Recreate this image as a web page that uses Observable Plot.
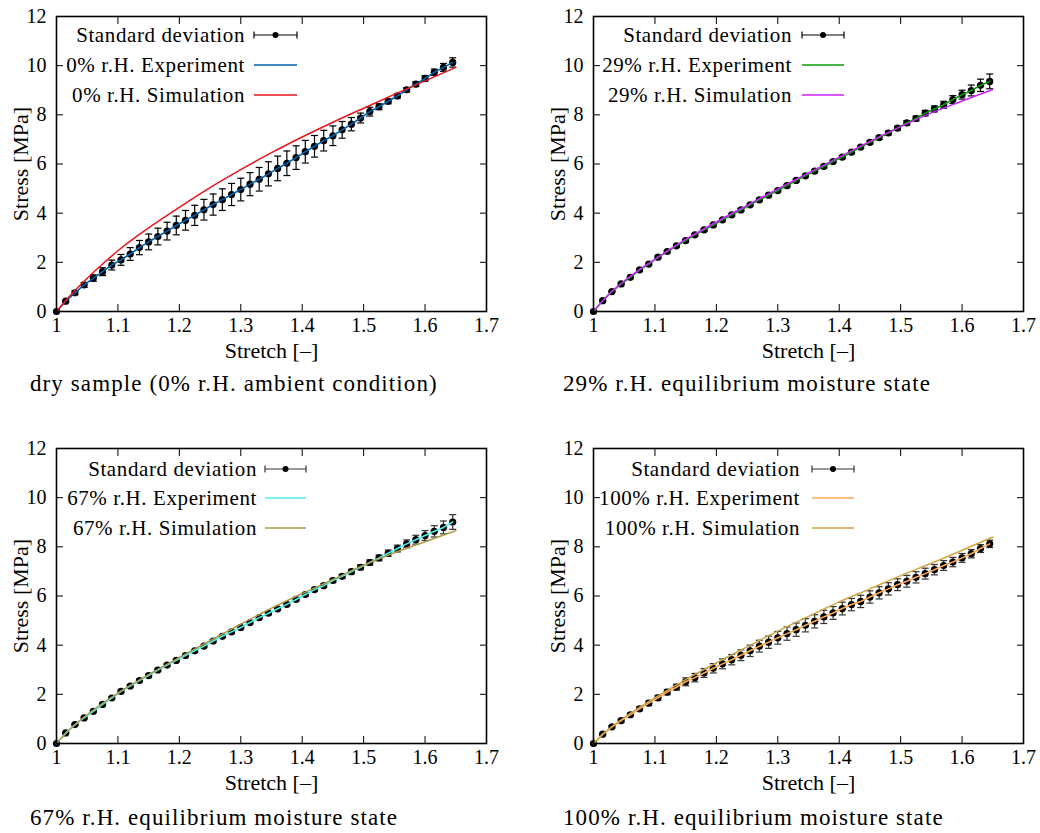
<!DOCTYPE html>
<html><head><meta charset="utf-8">
<script src="https://cdn.jsdelivr.net/npm/d3@7"></script>
<script src="https://cdn.jsdelivr.net/npm/@observablehq/plot@0.6"></script>
<style>
body{margin:0;background:#fff;}
#root{position:relative;width:1040px;height:833px;background:#fff;font-family:"Liberation Serif","DejaVu Serif","Times New Roman",serif;color:#000;overflow:hidden;}
.panel{position:absolute;width:520px;height:365px;}
.panel svg{max-width:none !important;}
.panel svg g[aria-label="x-axis label"] text, .panel svg g[aria-label="y-axis label"] text{font-size:22px;}
.cap{position:absolute;font-size:23px;letter-spacing:1.1px;white-space:nowrap;line-height:1;}
</style></head><body><div id="root"></div>
<script>
// ---------- data ----------
const expStretch = [1.000,1.015,1.030,1.045,1.060,1.075,1.090,1.105,1.120,1.135,1.150,1.165,1.180,1.195,1.210,1.225,1.240,1.255,1.270,1.285,1.300,1.315,1.330,1.345,1.360,1.375,1.390,1.405,1.420,1.435,1.450,1.465,1.480,1.495,1.510,1.525,1.540,1.555,1.570,1.585,1.600,1.615,1.630,1.645];
const simStretch = [1.000,1.025,1.050,1.075,1.100,1.150,1.200,1.250,1.300,1.350,1.400,1.450,1.500,1.550,1.600,1.650];
const xTicks = [1,1.1,1.2,1.3,1.4,1.5,1.6,1.7];
const yTicks = [0,2,4,6,8,10,12];

// 0% r.H.
const exp0 = [0,0.42,0.76,1.08,1.36,1.62,1.89,2.10,2.34,2.60,2.83,3.05,3.27,3.50,3.71,3.91,4.14,4.35,4.55,4.76,4.96,5.18,5.38,5.60,5.82,6.03,6.26,6.50,6.72,6.95,7.15,7.39,7.62,7.87,8.13,8.33,8.55,8.77,9.02,9.25,9.48,9.73,9.93,10.13];
const sd0 = [0,0.05,0.08,0.10,0.13,0.16,0.20,0.22,0.26,0.29,0.32,0.34,0.36,0.38,0.40,0.41,0.42,0.43,0.44,0.45,0.46,0.47,0.48,0.49,0.50,0.50,0.48,0.46,0.44,0.42,0.40,0.34,0.27,0.20,0.18,0.12,0.10,0.09,0.09,0.10,0.11,0.13,0.16,0.19];
const sim0 = [0,0.72,1.35,1.93,2.47,3.40,4.24,5.04,5.77,6.46,7.10,7.70,8.27,8.83,9.38,9.93];

// 29% r.H.
const exp29 = [0,0.44,0.81,1.12,1.39,1.69,1.93,2.21,2.44,2.67,2.88,3.12,3.32,3.52,3.73,3.93,4.13,4.34,4.54,4.73,4.92,5.12,5.33,5.52,5.71,5.90,6.10,6.28,6.48,6.69,6.88,7.07,7.26,7.46,7.67,7.85,8.07,8.24,8.41,8.62,8.82,8.99,9.20,9.36];
const sd29 = [0,0.03,0.03,0.04,0.04,0.05,0.05,0.05,0.05,0.05,0.05,0.05,0.05,0.05,0.05,0.05,0.05,0.05,0.05,0.05,0.05,0.05,0.05,0.05,0.05,0.05,0.05,0.06,0.06,0.06,0.07,0.07,0.08,0.08,0.09,0.10,0.11,0.12,0.14,0.16,0.18,0.22,0.25,0.30];
const sim29 = [0,0.70,1.24,1.70,2.12,2.93,3.64,4.32,4.99,5.64,6.28,6.92,7.52,8.08,8.56,9.03];

// 67% r.H.
const exp67 = [0,0.43,0.77,1.04,1.31,1.59,1.85,2.12,2.34,2.56,2.76,2.99,3.19,3.38,3.58,3.77,3.96,4.17,4.36,4.54,4.72,4.92,5.12,5.30,5.48,5.66,5.86,6.06,6.26,6.42,6.63,6.80,6.99,7.17,7.36,7.55,7.74,7.93,8.12,8.29,8.46,8.63,8.79,9.01];
const sd67 = [0,0.03,0.03,0.04,0.04,0.05,0.05,0.05,0.05,0.05,0.05,0.05,0.05,0.05,0.05,0.05,0.05,0.05,0.05,0.05,0.05,0.05,0.05,0.06,0.06,0.06,0.06,0.07,0.07,0.07,0.08,0.08,0.09,0.10,0.11,0.12,0.13,0.14,0.16,0.18,0.20,0.23,0.26,0.30];
const sim67 = [0,0.65,1.17,1.63,2.05,2.80,3.50,4.18,4.85,5.50,6.10,6.67,7.25,7.76,8.21,8.66];

// 100% r.H.
const exp100 = [0,0.38,0.68,0.93,1.17,1.41,1.64,1.86,2.09,2.29,2.51,2.68,2.87,3.06,3.24,3.41,3.59,3.77,3.96,4.12,4.30,4.47,4.63,4.81,4.97,5.15,5.31,5.49,5.65,5.78,5.96,6.13,6.29,6.46,6.60,6.76,6.91,7.07,7.24,7.38,7.55,7.72,7.93,8.12];
const sd100 = [0,0.04,0.05,0.06,0.07,0.08,0.09,0.10,0.11,0.12,0.16,0.17,0.18,0.19,0.20,0.21,0.22,0.23,0.24,0.25,0.26,0.27,0.27,0.27,0.27,0.27,0.26,0.26,0.25,0.25,0.25,0.25,0.25,0.24,0.24,0.23,0.22,0.21,0.20,0.19,0.18,0.17,0.16,0.15];
const sim100 = [0,0.58,1.05,1.47,1.86,2.60,3.28,3.93,4.57,5.17,5.76,6.29,6.83,7.33,7.86,8.40];

const stdLabel = "Standard deviation";
const expLabels = ["0% r.H. Experiment","29% r.H. Experiment","67% r.H. Experiment","100% r.H. Experiment"];
const simLabels = ["0% r.H. Simulation","29% r.H. Simulation","67% r.H. Simulation","100% r.H. Simulation"];
const captions = ["dry sample (0% r.H. ambient condition)","29% r.H. equilibrium moisture state","67% r.H. equilibrium moisture state","100% r.H. equilibrium moisture state"];
const xLabel = "Stretch [–]";
const yLabel = "Stress [MPa]";

// ---------- styling / layout ----------
const FONT = "'Liberation Serif', 'DejaVu Serif', 'Times New Roman', serif";
const series = [
  {exp: exp0, sd: sd0, sim: sim0, expColor: "#0060ad", simColor: "#e8151b", sdColor: "#000"},
  {exp: exp29, sd: sd29, sim: sim29, expColor: "#0a9a0a", simColor: "#cc22ff", sdColor: "#000"},
  {exp: exp67, sd: sd67, sim: sim67, expColor: "#4cf0f0", simColor: "#a89c48", sdColor: "#333"},
  {exp: exp100, sd: sd100, sim: sim100, expColor: "#ffaa55", simColor: "#cfa546", sdColor: "#333"}
];
const layout = [
  {left: 0,   top: 0,   textX: 245, s1: 254, s2: 297, rows: [35,65,95], capX: 30,  capY: 372},
  {left: 537, top: 0,   textX: 255, s1: 265, s2: 307, rows: [35,65,95], capX: 563, capY: 372},
  {left: 0,   top: 432, textX: 257, s1: 265, s2: 306, rows: [37,66,96], capX: 30,  capY: 806},
  {left: 537, top: 432, textX: 263, s1: 275, s2: 317, rows: [37,66,96], capX: 563, capY: 806}
];

const capSymbol = {draw(ctx, size) { const r = Math.sqrt(size / Math.PI); ctx.moveTo(-r, 0); ctx.lineTo(r, 0); }};
const root = document.getElementById("root");

series.forEach((s, i) => {
  const L = layout[i];
  const expData = expStretch.map((x, k) => ({x, v: s.exp[k], lo: s.exp[k] - s.sd[k], hi: s.exp[k] + s.sd[k]}));
  const simData = simStretch.map((x, k) => ({x, v: s.sim[k]}));
  const svg = Plot.plot({
    width: 520, height: 365,
    marginLeft: 56, marginRight: 34, marginTop: 16, marginBottom: 54,
    style: {fontFamily: FONT, fontSize: "20px", color: "#000", background: "transparent", overflow: "visible", maxWidth: "none"},
    x: {domain: [1, 1.7]},
    y: {domain: [0, 12]},
    marks: [
      Plot.axisX({ticks: xTicks, tickSize: -7, tickPadding: 13, tickFormat: d => String(d), label: xLabel, labelAnchor: "center", labelOffset: 46, labelArrow: false}),
      Plot.axisX({anchor: "top", ticks: xTicks, tickSize: -7, tickFormat: () => "", label: null}),
      Plot.axisY({ticks: yTicks, tickSize: -7, tickPadding: 17, label: yLabel, labelAnchor: "center", labelOffset: 44, labelArrow: false}),
      Plot.axisY({anchor: "right", ticks: yTicks, tickSize: -7, tickFormat: () => "", label: null}),
      Plot.ruleX(expData, {x: "x", y1: "lo", y2: "hi", stroke: s.sdColor, strokeWidth: 1.2}),
      Plot.dot(expData, {x: "x", y: "lo", r: 3.5, symbol: capSymbol, stroke: s.sdColor, strokeWidth: 1.2}),
      Plot.dot(expData, {x: "x", y: "hi", r: 3.5, symbol: capSymbol, stroke: s.sdColor, strokeWidth: 1.2}),
      Plot.dot(expData, {x: "x", y: "v", r: 3.6, fill: "#000", stroke: "none"}),
      Plot.line(expData, {x: "x", y: "v", stroke: s.expColor, strokeWidth: 1.6}),
      Plot.line(simData, {x: "x", y: "v", stroke: s.simColor, strokeWidth: 1.5, curve: "monotone-x"}),
      Plot.frame({stroke: "#000", strokeWidth: 1.6})
    ]
  });
  svg.style.maxWidth = "none";
  svg.setAttribute("width", 520);
  svg.setAttribute("height", 365);
  const wrap = document.createElement("div");
  wrap.className = "panel";
  wrap.style.left = L.left + "px";
  wrap.style.top = L.top + "px";
  wrap.appendChild(svg);
  root.appendChild(wrap);

  // legend
  const g = d3.select(svg).append("g").attr("font-family", FONT).attr("font-size", 21).attr("letter-spacing", "0.6px");
  const texts = [stdLabel, expLabels[i], simLabels[i]];
  texts.forEach((t, j) => {
    g.append("text").attr("x", L.textX).attr("y", L.rows[j]).attr("dy", "0.35em").attr("text-anchor", "end").attr("fill", "#000").text(t);
  });
  const y0 = L.rows[0], mid = (L.s1 + L.s2) / 2;
  g.append("line").attr("x1", L.s1).attr("x2", L.s2).attr("y1", y0).attr("y2", y0).attr("stroke", s.sdColor).attr("stroke-width", 1.2);
  g.append("line").attr("x1", L.s1).attr("x2", L.s1).attr("y1", y0 - 3.5).attr("y2", y0 + 3.5).attr("stroke", s.sdColor).attr("stroke-width", 1.2);
  g.append("line").attr("x1", L.s2).attr("x2", L.s2).attr("y1", y0 - 3.5).attr("y2", y0 + 3.5).attr("stroke", s.sdColor).attr("stroke-width", 1.2);
  g.append("circle").attr("cx", mid).attr("cy", y0).attr("r", 3).attr("fill", "#000");
  g.append("line").attr("x1", L.s1).attr("x2", L.s2).attr("y1", L.rows[1]).attr("y2", L.rows[1]).attr("stroke", s.expColor).attr("stroke-width", 1.5);
  g.append("line").attr("x1", L.s1).attr("x2", L.s2).attr("y1", L.rows[2]).attr("y2", L.rows[2]).attr("stroke", s.simColor).attr("stroke-width", 1.5);

  const cap = document.createElement("div");
  cap.className = "cap";
  cap.style.left = L.capX + "px";
  cap.style.top = L.capY + "px";
  cap.textContent = captions[i];
  root.appendChild(cap);
});
</script>
</body></html>
